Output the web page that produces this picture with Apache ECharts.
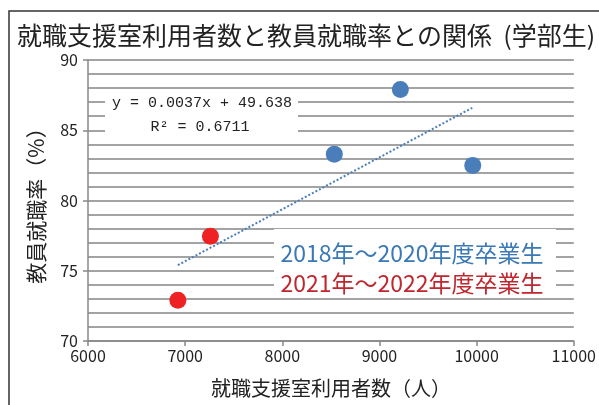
<!DOCTYPE html>
<html>
<head>
<meta charset="utf-8">
<script src="https://cdn.jsdelivr.net/npm/echarts@6/dist/echarts.min.js"></script>
<style>
  html, body { margin: 0; padding: 0; background: #fff; }
  #chart { width: 599px; height: 405px; }
</style>
</head>
<body>
<div id="chart"></div>
<script>
  // 2018〜2020年度卒業生（利用者数, 就職率）
  var blueUsers = [8535, 9215, 9960];
  var blueRates = [83.3, 87.9, 82.5];
  // 2021〜2022年度卒業生
  var redUsers = [7260, 6925];
  var redRates = [77.45, 72.9];
  // 近似直線 y = 0.0037x + 49.638 の両端
  var trendUsers = [6925, 9955];
  var trendRates = [75.4, 86.6];
  var yTicks = [70, 75, 80, 85, 90];
  var xTicks = [6000, 7000, 8000, 9000, 10000, 11000];

  var font = '"Noto Sans CJK JP", "Noto Sans", sans-serif';
  var mono = '"Liberation Mono", "DejaVu Sans Mono", monospace';
  var chart = echarts.init(document.getElementById('chart'));

  function pairs(xs, ys) {
    return xs.map(function (x, i) { return [x, ys[i]]; });
  }

  var option = {
    animation: false,
    textStyle: { fontFamily: font },
    title: {
      text: '就職支援室利用者数と教員就職率との関係  (学部生)',
      left: 12,
      top: 18,
      textStyle: { fontSize: 25, fontWeight: 'normal', color: '#222', fontFamily: font }
    },
    grid: { left: 88, right: 22, top: 60, bottom: 64 },
    xAxis: {
      type: 'value',
      min: xTicks[0],
      max: xTicks[xTicks.length - 1],
      interval: 1000,
      name: '就職支援室利用者数（人）',
      nameLocation: 'middle',
      nameGap: 37,
      nameTextStyle: { fontSize: 20, color: '#222', fontFamily: font },
      axisLine: { lineStyle: { color: '#888', width: 1.5 } },
      axisTick: { show: true, length: 5, lineStyle: { color: '#888', width: 1.5 } },
      axisLabel: { fontSize: 16, color: '#222', margin: 7, formatter: function (v) { return String(v); } },
      splitLine: { show: false }
    },
    yAxis: {
      type: 'value',
      min: yTicks[0],
      max: yTicks[yTicks.length - 1],
      interval: 5,
      name: '教員就職率（%）',
      nameLocation: 'middle',
      nameGap: 41,
      nameTextStyle: { fontSize: 21, color: '#222', fontFamily: font },
      axisLine: { show: true, lineStyle: { color: '#888', width: 1.5 } },
      axisTick: { show: true, length: 5, lineStyle: { color: '#888', width: 1.5 } },
      axisLabel: { fontSize: 16, color: '#222', margin: 10 },
      splitLine: { show: true, lineStyle: { color: '#858585', width: 1.5 } },
      minorTick: { show: false, splitNumber: 5 },
      minorSplitLine: { show: true, lineStyle: { color: '#858585', width: 1.5 } }
    },
    graphic: [
      {
        type: 'rect',
        shape: { x: 9, y: 11, width: 640, height: 440 },
        style: { fill: 'none', stroke: '#333', lineWidth: 1.5 },
        silent: true,
        z: 100
      },
      {
        type: 'rect',
        shape: { x: 105, y: 95, width: 193, height: 38 },
        style: { fill: '#fff' },
        z: 10
      },
      {
        type: 'text',
        x: 202, y: 103,
        style: {
          text: 'y = 0.0037x + 49.638',
          fontSize: 15, fill: '#222', fontFamily: mono,
          align: 'center', verticalAlign: 'middle'
        },
        z: 11
      },
      {
        type: 'text',
        x: 200, y: 127,
        style: {
          text: 'R² = 0.6711',
          fontSize: 15, fill: '#222', fontFamily: mono,
          align: 'center', verticalAlign: 'middle'
        },
        z: 11
      },
      {
        type: 'rect',
        shape: { x: 274, y: 229, width: 282, height: 68 },
        style: { fill: '#fff' },
        z: 10
      },
      {
        type: 'text',
        x: 412, y: 253,
        style: {
          text: '2018年～2020年度卒業生',
          fontSize: 23, fill: '#3a78b6', fontFamily: font,
          align: 'center', verticalAlign: 'middle'
        },
        z: 11
      },
      {
        type: 'text',
        x: 412, y: 283,
        style: {
          text: '2021年～2022年度卒業生',
          fontSize: 23, fill: '#c0262d', fontFamily: font,
          align: 'center', verticalAlign: 'middle'
        },
        z: 11
      }
    ],
    series: [
      {
        name: 'trend',
        type: 'line',
        data: pairs(trendUsers, trendRates),
        showSymbol: false,
        symbol: 'none',
        lineStyle: { color: '#4a7ebb', width: 2, type: [2, 2] },
        z: 3
      },
      {
        name: '2018年～2020年度卒業生',
        type: 'scatter',
        data: pairs(blueUsers, blueRates),
        symbolSize: 17,
        itemStyle: { color: '#4a7ebb', opacity: 1 },
        z: 4
      },
      {
        name: '2021年～2022年度卒業生',
        type: 'scatter',
        data: pairs(redUsers, redRates),
        symbolSize: 17,
        itemStyle: { color: '#ee2222', opacity: 1 },
        z: 4
      }
    ]
  };

  chart.setOption(option);
</script>
</body>
</html>
